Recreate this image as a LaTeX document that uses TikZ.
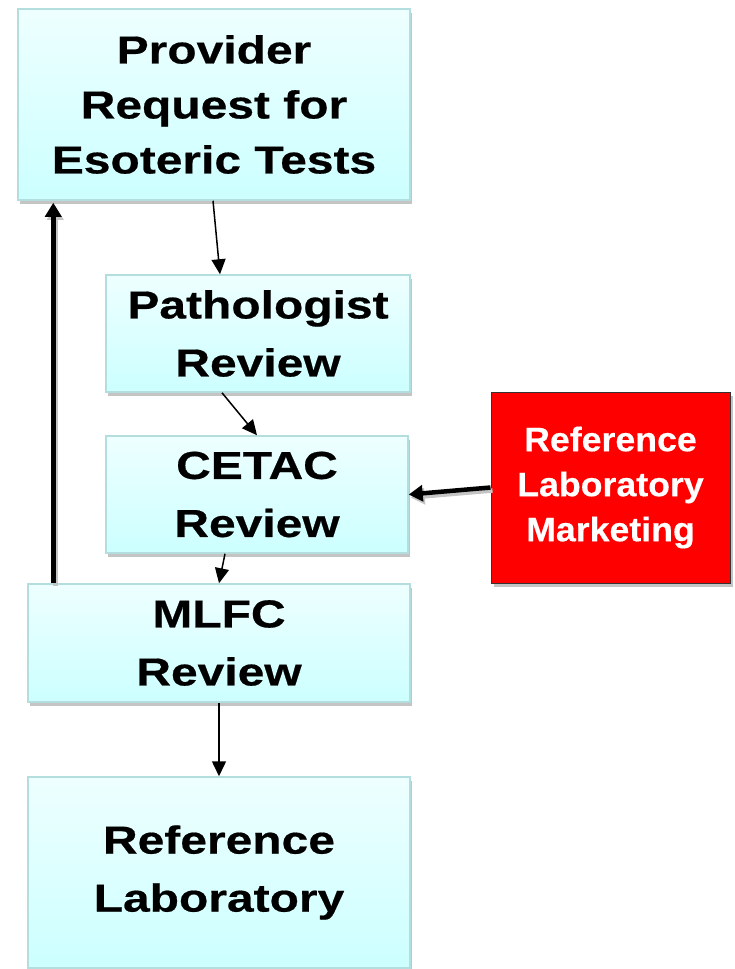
\documentclass[tikz,border=0pt]{standalone}
\usepackage{fontspec}
\newfontfamily\boxfont{Liberation Sans}[FakeStretch=1.23,BoldFeatures={FakeBold=0.5}]
\newfontfamily\redfont{Liberation Sans}[FakeStretch=1.05,BoldFeatures={FakeBold=0.4}]
\usetikzlibrary{arrows.meta,shadows}

\definecolor{boxtop}{HTML}{EEFFFF}
\definecolor{boxbot}{HTML}{CCFFFF}
\definecolor{boxline}{HTML}{B4DEDE}
\definecolor{shadowgray}{HTML}{C4C4C4}
\definecolor{alertred}{HTML}{FF0000}

\begin{document}
\begin{tikzpicture}[x=1pt,y=-1pt,
  cyanbox/.style={draw=boxline, line width=1.5pt, top color=boxtop, bottom color=boxbot,
    inner sep=0pt, align=center,
    font=\boxfont\bfseries\fontsize{39}{58}\selectfont,
    drop shadow={shadow xshift=2pt, shadow yshift=-4pt, fill=shadowgray, opacity=1}},
  redbox/.style={draw=black!80, line width=1pt, fill=alertred, text=white,
    inner sep=0pt, align=center,
    font=\redfont\bfseries\fontsize{34}{45}\selectfont,
    drop shadow={shadow xshift=3pt, shadow yshift=-4pt, fill=shadowgray, opacity=1}},
  thinarrow/.style={line width=1.5pt, -{Triangle[length=15pt,width=14pt]}},
  boldarrow/.style={line width=4.5pt, -{Triangle[length=14pt,width=16pt]}},
  boldshadow/.style={boldarrow, draw=shadowgray, transform canvas={xshift=2pt,yshift=-3pt}}
]
\useasboundingbox (0,0) rectangle (735,969);

% process boxes
\node[cyanbox, minimum width=392pt, minimum height=191pt,
      font=\boxfont\bfseries\fontsize{39}{55}\selectfont]
  (prov) at (214,104.5) {Provider\\Request for\\Esoteric Tests};
\node[cyanbox, minimum width=304pt, minimum height=117pt]
  (path) at (258,333.5) {Pathologist\\Review};
\node[cyanbox, minimum width=302pt, minimum height=117pt]
  (cetac) at (257,494.5) {CETAC\\Review};
\node[cyanbox, minimum width=382pt, minimum height=118pt]
  (mlfc) at (219,643) {MLFC\\Review};
\node[cyanbox, minimum width=382pt, minimum height=191pt]
  (reflab) at (219,872.5) {Reference\\Laboratory};
\node[redbox, minimum width=239pt, minimum height=191pt]
  (mkt) at (610.5,487.5) {Reference\\Laboratory\\Marketing};

% flow connectors
\draw[thinarrow] ([xshift=-1pt]prov.south) -- ([xshift=-38pt]path.north);
\draw[thinarrow] ([xshift=-36pt]path.south) -- (cetac.north);
\draw[thinarrow] ([xshift=-32pt]cetac.south) -- (mlfc.north);
\draw[thinarrow] (mlfc.south) -- (reflab.north);

% feedback and marketing input
\draw[boldshadow] ([xshift=26pt]mlfc.north west) -- ([xshift=36pt,yshift=-2pt]prov.south west);
\draw[boldarrow] ([xshift=26pt]mlfc.north west) -- ([xshift=36pt,yshift=-2pt]prov.south west);
\draw[boldshadow] (mkt.west) -- (cetac.east);
\draw[boldarrow] (mkt.west) -- (cetac.east);
\end{tikzpicture}
\end{document}
